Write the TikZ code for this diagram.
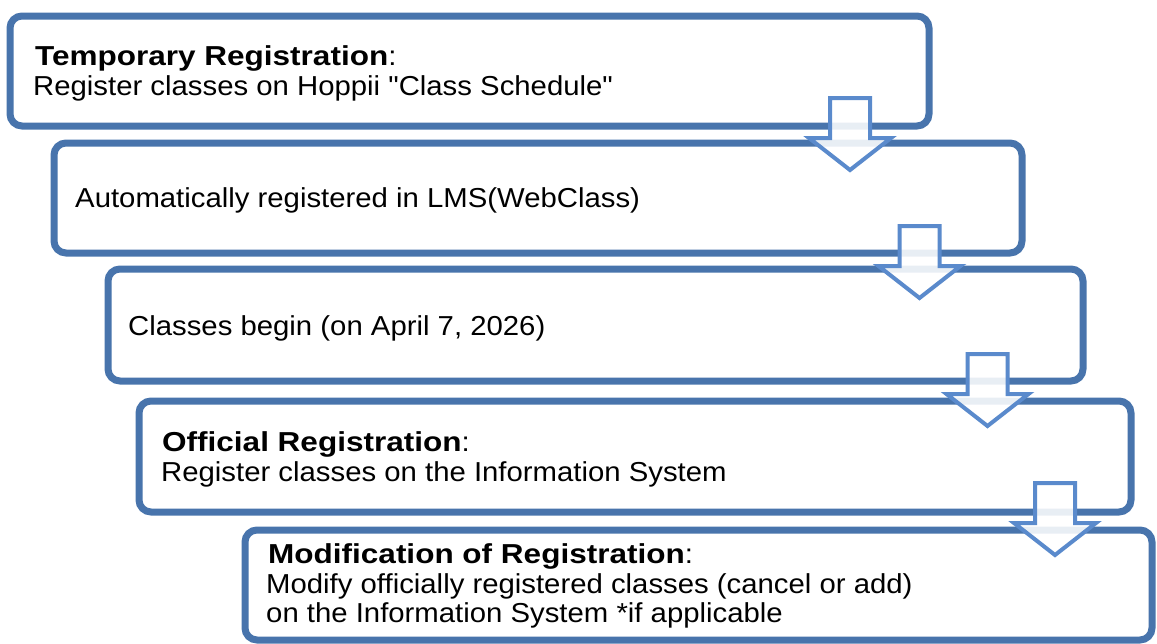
\documentclass[tikz,border=0pt]{standalone}
\usepackage{fontspec}
\setmainfont{Liberation Sans}
\usetikzlibrary{shadows}
\definecolor{boxblue}{RGB}{72,116,172}
\definecolor{arrowblue}{RGB}{90,138,204}
\newcommand\flowarrow[3]{%
  \draw[flowarr] (#2-20,#3) -- (#2+20,#3) -- (#2+20,#3+40) -- (#2+41,#3+40)
    -- (#2,#3+72) -- (#2-41,#3+40) -- (#2-20,#3+40) -- cycle;}
\newcommand\regtxt[1]{\scalebox{1.07}[1]{#1}}
\newcommand\boldtxt[1]{\scalebox{1.15}[1]{\textbf{#1}}}
\begin{document}
\begin{tikzpicture}[x=1pt,y=-1pt,
  stepbox/.style={draw=boxblue, line width=7pt, fill=white, rounded corners=12pt,
    inner sep=0pt, outer sep=0pt,
    drop shadow={shadow xshift=1.5pt, shadow yshift=-2.5pt, opacity=0.25, fill=black!60}},
  flowarr/.style={draw=arrowblue, line width=4pt, fill=white, fill opacity=0.88, line join=miter},
  txt/.style={anchor=base west, inner sep=0pt, font=\fontsize{27.4}{30}\selectfont}]
\useasboundingbox (0,0) rectangle (1157,643);
% boxes
\node[stepbox, minimum width=919pt, minimum height=110pt] (b1) at (469.5,71) {};
\node[stepbox, minimum width=968pt, minimum height=110pt] (b2) at (538,198) {};
\node[stepbox, minimum width=975pt, minimum height=112pt] (b3) at (595.5,325) {};
\node[stepbox, minimum width=992pt, minimum height=111pt] (b4) at (635,456.5) {};
\node[stepbox, minimum width=907pt, minimum height=110pt] (b5) at (698.5,585) {};
% texts
\node[txt] (t1a) at (35,65) {\boldtxt{Temporary Registration}\regtxt{:}};
\node[txt] (t1b) at (33,95) {\regtxt{Register classes on Hoppii \textquotedbl Class Schedule\textquotedbl}};
\node[txt] (t2) at (75,207) {\regtxt{Automatically registered in LMS(WebClass)}};
\node[txt] (t3) at (128,335) {\regtxt{Classes begin (on April 7, 2026)}};
\node[txt] (t4a) at (162,451) {\boldtxt{Official Registration}\regtxt{:}};
\node[txt] (t4b) at (161,481) {\regtxt{Register classes on the Information System}};
\node[txt] (t5a) at (268,563) {\boldtxt{Modification of Registration}\regtxt{:}};
\node[txt] (t5b) at (266,593) {\regtxt{Modify officially registered classes (cancel or add)}};
\node[txt] (t5c) at (266,622) {\regtxt{on the Information System *if applicable}};
% arrows
\flowarrow{a1}{850}{98}
\flowarrow{a2}{919.5}{226}
\flowarrow{a3}{987.5}{354}
\flowarrow{a4}{1055}{483}
\end{tikzpicture}
\end{document}
